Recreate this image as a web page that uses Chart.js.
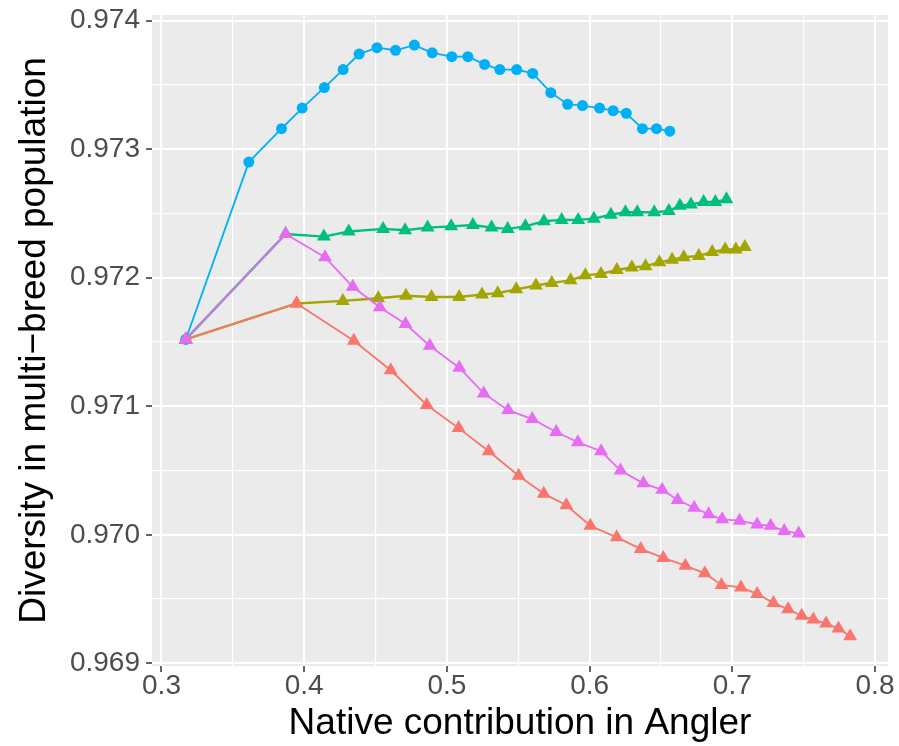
<!DOCTYPE html>
<html>
<head>
<meta charset="utf-8">
<script src="https://cdn.jsdelivr.net/npm/chart.js@4.4.0/dist/chart.umd.min.js"></script>
<style>
  html, body { margin: 0; padding: 0; background: #ffffff; }
  #wrap { width: 899px; height: 746px; }
</style>
</head>
<body>
<div id="wrap"><canvas id="myChart" width="899" height="746"></canvas></div>
<script>
// values
const redX = [0.317, 0.3947, 0.4348, 0.4606, 0.4859, 0.5082, 0.5293, 0.5503, 0.5679, 0.5837, 0.6005, 0.6190, 0.6358, 0.6516, 0.6671, 0.6807, 0.6924, 0.7060, 0.7174, 0.7288, 0.7391, 0.7486, 0.7568, 0.7657, 0.7744, 0.7826];
const redY = [0.97152, 0.97180, 0.97151, 0.97128, 0.97101, 0.97083, 0.97065, 0.97046, 0.97032, 0.97023, 0.97007, 0.96998, 0.96989, 0.96982, 0.96976, 0.96970, 0.96961, 0.96959, 0.96954, 0.96947, 0.96942, 0.96937, 0.96934, 0.96931, 0.96927, 0.96921];

const oliveX = [0.317, 0.3947, 0.4271, 0.4519, 0.4713, 0.4892, 0.5086, 0.5246, 0.5356, 0.5486, 0.5624, 0.5735, 0.5867, 0.5970, 0.6080, 0.6191, 0.6296, 0.6392, 0.6489, 0.6578, 0.6660, 0.6765, 0.6859, 0.6950, 0.7025, 0.7088];
const oliveY = [0.97152, 0.97180, 0.97182, 0.97184, 0.97186, 0.97185, 0.97185, 0.97187, 0.97188, 0.97191, 0.97194, 0.97196, 0.97198, 0.97202, 0.97203, 0.97206, 0.97208, 0.97209, 0.97212, 0.97214, 0.97216, 0.97217, 0.97220, 0.97222, 0.97222, 0.97224];

const greenX = [0.317, 0.3870, 0.4138, 0.4312, 0.4553, 0.4707, 0.4865, 0.5030, 0.5182, 0.5313, 0.5426, 0.5550, 0.5680, 0.5804, 0.5920, 0.6030, 0.6149, 0.6251, 0.6334, 0.6453, 0.6555, 0.6633, 0.6710, 0.6799, 0.6881, 0.6959];
const greenY = [0.97152, 0.97234, 0.97232, 0.97236, 0.97238, 0.97237, 0.97239, 0.97240, 0.97241, 0.97239, 0.97238, 0.97240, 0.97244, 0.97245, 0.97245, 0.97246, 0.97249, 0.97251, 0.97251, 0.97251, 0.97252, 0.97256, 0.97257, 0.97259, 0.97259, 0.97261];

const blueX = [0.317, 0.3612, 0.3841, 0.3986, 0.4141, 0.4273, 0.4385, 0.4510, 0.4640, 0.4772, 0.4897, 0.5034, 0.5147, 0.5264, 0.5371, 0.5489, 0.5601, 0.5728, 0.5846, 0.5950, 0.6070, 0.6165, 0.6257, 0.6370, 0.6469, 0.6562];
const blueY = [0.97152, 0.97290, 0.97316, 0.97332, 0.97348, 0.97362, 0.97374, 0.97379, 0.97377, 0.97381, 0.97375, 0.97372, 0.97372, 0.97366, 0.97362, 0.97362, 0.97359, 0.97344, 0.97335, 0.97334, 0.97332, 0.97330, 0.97328, 0.97316, 0.97316, 0.97314];

const pinkX = [0.317, 0.3870, 0.4146, 0.4340, 0.4530, 0.4710, 0.4880, 0.5087, 0.5258, 0.5429, 0.5598, 0.5766, 0.5918, 0.6081, 0.6217, 0.6377, 0.6508, 0.6617, 0.6733, 0.6834, 0.6929, 0.7051, 0.7174, 0.7269, 0.7364, 0.7465];
const pinkY = [0.97152, 0.97234, 0.97216, 0.97193, 0.97177, 0.97164, 0.97147, 0.97130, 0.97110, 0.97097, 0.97090, 0.97080, 0.97072, 0.97065, 0.97050, 0.97040, 0.97035, 0.97027, 0.97021, 0.97016, 0.97012, 0.97011, 0.97008, 0.97007, 0.97003, 0.97001];

const xTicks = [0.3, 0.35, 0.4, 0.45, 0.5, 0.55, 0.6, 0.65, 0.7, 0.75, 0.8];
const yTicks = [0.969, 0.9695, 0.970, 0.9705, 0.971, 0.9715, 0.972, 0.9725, 0.973, 0.9735, 0.974];

const font = '"Liberation Sans", Arial, sans-serif';

function pts(xs, ys) {
	return xs.map((x, i) => ({ x: x, y: ys[i] }));
}

function isMajor(v, mult) {
	return Math.abs(v * mult - Math.round(v * mult)) < 1e-6;
}

function series(xs, ys, color, shape, radius, width) {
	return {
		data: pts(xs, ys),
		showLine: true,
		borderColor: color,
		backgroundColor: color,
		borderWidth: width,
		pointStyle: shape,
		pointRadius: radius,
		pointBorderWidth: 0,
		pointBackgroundColor: color
	};
}

// grey panel behind the grid
const panel = {
	id: 'panel',
	beforeDraw(chart) {
		const a = chart.chartArea;
		const ctx = chart.ctx;
		ctx.save();
		ctx.fillStyle = '#EBEBEB';
		ctx.fillRect(a.left, a.top, a.right - a.left, a.bottom - a.top);
		ctx.restore();
	}
};

const data = {
	datasets: [
		series(pinkX, pinkY, '#E76BF3', 'triangle', 8, 1.8),
		series(redX, redY, '#F8766D', 'triangle', 8, 1.8),
		series(greenX, greenY, '#00BF7D', 'triangle', 8, 2.4),
		series(oliveX, oliveY, '#A3A500', 'triangle', 8, 2.4),
		series(blueX, blueY, '#00B0F6', 'circle', 5.5, 1.8)
	]
};

const config = {
	type: 'scatter',
	data,
	plugins: [panel],
	options: {
		responsive: false,
		animation: false,
		layout: { padding: { top: 15, right: 11, left: 0, bottom: 0 } },
		plugins: { legend: { display: false }, tooltip: { enabled: false } },
		scales: {
			x: {
				type: 'linear',
				min: 0.29335,
				max: 0.8091,
				afterBuildTicks: s => { s.ticks = xTicks.map(v => ({ value: v })); },
				afterFit: s => { s.height = 80; s.paddingLeft = 0; s.paddingRight = 0; },
				border: { display: false },
				grid: {
					color: '#FFFFFF',
					lineWidth: c => isMajor(c.tick.value, 10) ? 2 : 1.2,
					tickColor: c => isMajor(c.tick.value, 10) ? '#333333' : 'rgba(0,0,0,0)',
					tickWidth: 1.5,
					tickLength: 6
				},
				ticks: {
					padding: 0,
					color: '#4D4D4D',
					font: { family: font, size: 28, lineHeight: 1 },
					maxRotation: 0,
					autoSkip: false,
					callback: v => isMajor(v, 10) ? v.toFixed(1) : ''
				},
				title: {
					display: true,
					text: 'Native contribution in Angler',
					color: '#000000',
					font: { family: font, size: 37, lineHeight: 1 },
					padding: { top: 0, bottom: 4 }
				}
			},
			y: {
				type: 'linear',
				min: 0.968979,
				max: 0.9740444,
				afterBuildTicks: s => { s.ticks = yTicks.map(v => ({ value: v })); },
				afterFit: s => { s.width = 152; s.paddingTop = 0; s.paddingBottom = 0; },
				border: { display: false },
				grid: {
					color: '#FFFFFF',
					lineWidth: c => isMajor(c.tick.value, 1000) ? 2 : 1.2,
					tickColor: c => isMajor(c.tick.value, 1000) ? '#333333' : 'rgba(0,0,0,0)',
					tickWidth: 1.5,
					tickLength: 6
				},
				ticks: {
					padding: 6,
					color: '#4D4D4D',
					font: { family: font, size: 28, lineHeight: 1 },
					autoSkip: false,
					callback: v => isMajor(v, 1000) ? v.toFixed(3) : ''
				},
				title: {
					display: true,
					text: 'Diversity in multi\u2212breed population',
					color: '#000000',
					font: { family: font, size: 37, lineHeight: 1 },
					padding: { top: 16, bottom: 0 }
				}
			}
		}
	}
};

const myChart = new Chart(document.getElementById('myChart'), config);
</script>
</body>
</html>
